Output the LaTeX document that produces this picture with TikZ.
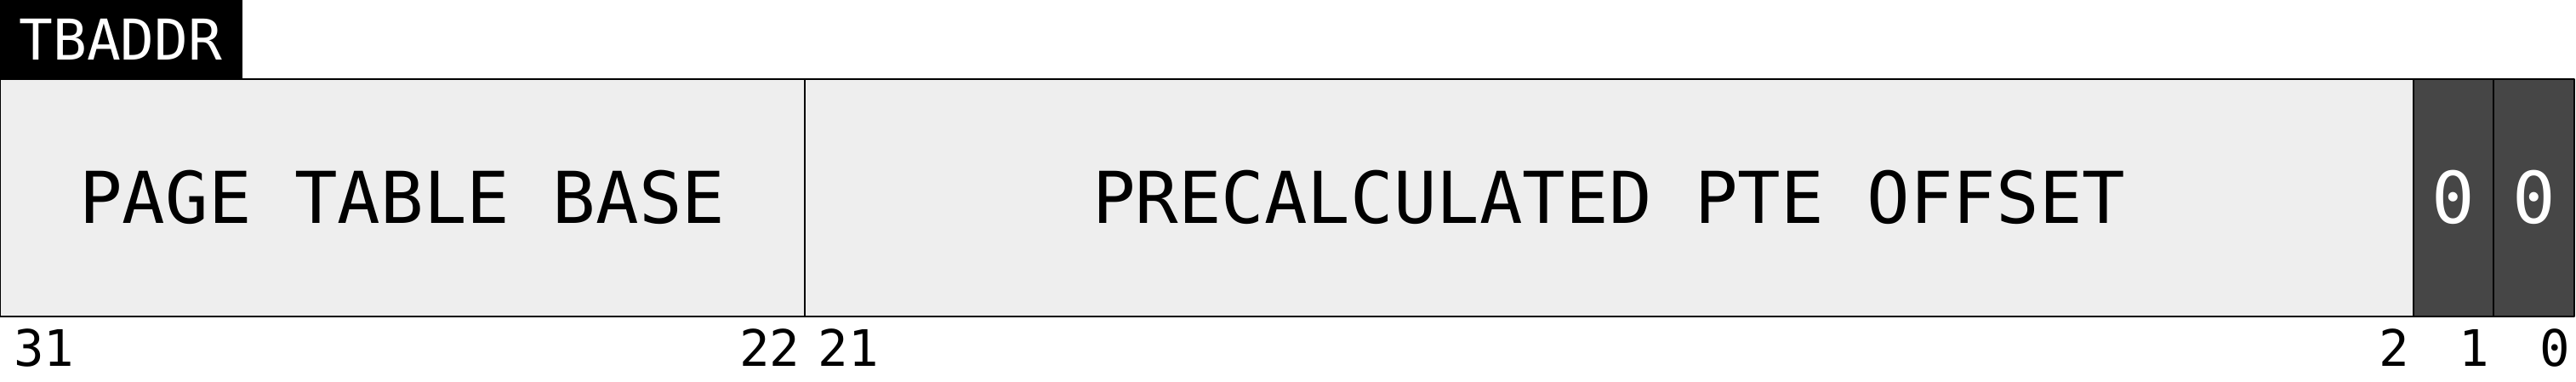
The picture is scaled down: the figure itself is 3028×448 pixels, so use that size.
\documentclass[tikz,border=0pt]{standalone}
\usepackage{fontspec}
\setmonofont{DejaVu Sans Mono}
\definecolor{fieldgray}{HTML}{EEEEEE}
\definecolor{bitdark}{HTML}{464646}
\begin{document}
\begin{tikzpicture}[x=0.01cm, y=-0.01cm, line join=round, line width=0.6pt, font=\ttfamily,
  fieldtxt/.style={inner sep=0pt, font=\ttfamily\fontsize{23.9}{28}\selectfont},
  bitnum/.style={inner sep=0pt, font=\ttfamily\fontsize{16.8}{20}\selectfont}]
\def\bw{94.56} % Breite eines Bits
\def\ytop{93} \def\ybot{372} \def\ymid{232} \def\ynum{430}
\useasboundingbox (0,0) rectangle (3028,448);
% Titel
\fill[black] (0,0) rectangle (285,\ytop);
\node[white, inner sep=0pt, font=\ttfamily\fontsize{18.8}{22}\selectfont] (title) at (142,46) {TBADDR};
% Felder mit mehreren Bits
\foreach \hi/\lo/\nm/\txt in {31/22/base/{PAGE TABLE BASE},21/2/off/{PRECALCULATED PTE OFFSET}}{
  \draw[fill=fieldgray] ({(31-\hi)*\bw},\ytop) rectangle ({(32-\lo)*\bw},\ybot);
  \node[fieldtxt] (\nm) at ({(63-\hi-\lo)/2*\bw},\ymid) {\txt};
  \node[bitnum, anchor=base west] (\nm-hi) at ({(31-\hi)*\bw+15},\ynum) {\hi};
  \node[bitnum, anchor=base east] (\nm-lo) at ({(32-\lo)*\bw-4},\ynum) {\lo};
}
% einzelne Bits
\foreach \b in {1,0}{
  \draw[fill=bitdark] ({(31-\b)*\bw},\ytop) rectangle ({(32-\b)*\bw},\ybot);
  \node[fieldtxt, white] (bit\b) at ({(31.5-\b)*\bw},\ymid) {0};
  \node[bitnum, anchor=base east] (bit\b-lo) at ({(32-\b)*\bw-4},\ynum) {\b};
}
\end{tikzpicture}
\end{document}
